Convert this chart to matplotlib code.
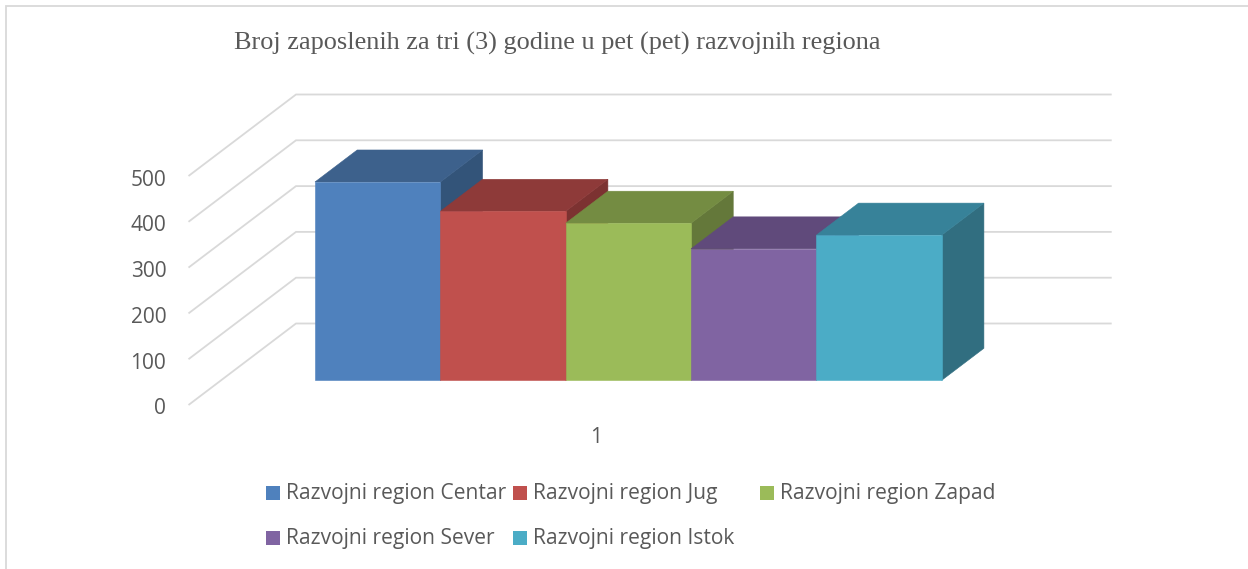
import matplotlib
matplotlib.use("Agg")
import matplotlib.pyplot as plt
from matplotlib.patches import Polygon, Rectangle
from matplotlib.transforms import ScaledTranslation

# ---- data ----
regions = ["Razvojni region Centar", "Razvojni region Jug", "Razvojni region Zapad",
           "Razvojni region Sever", "Razvojni region Istok"]
employees = [433, 369, 343, 287, 317]
value_ticks = [0, 100, 200, 300, 400, 500]
category_label = "1"
title = "Broj zaposlenih za tri (3) godine u pet (pet) razvojnih regiona"

front_colors = ["#4F81BD", "#C0504D", "#9BBB59", "#8064A2", "#4BACC6"]
top_colors = ["#3D618C", "#8E3A39", "#748C42", "#604A7B", "#378299"]
side_colors = ["#335479", "#7C3231", "#64783A", "#533F6C", "#316E80"]

W, H = 1248, 569
GRID = "#D9D9D9"
TEXT = "#595959"
SANS = "Open Sans"

fig = plt.figure(figsize=(W / 100, H / 100), dpi=100, facecolor="white")

# plot box in pixels: floor front-left corner to far top-right
left, right, bottom, top = 188.5, 1111.7, 405.0, 94.0
ax = fig.add_axes([left / W, 1 - bottom / H, (right - left) / W, (bottom - top) / H])
bar_px = 125.34            # pixels per bar
val_px = 0.458             # pixels per employee
ax.set_xlim(0, (right - left) / bar_px)
ax.set_ylim(0, (bottom - top) / val_px)
ax.patch.set_visible(False)
for s in ax.spines.values():
    s.set_visible(False)

# oblique depth projection: depth 0 = front edge of floor, 1 = back wall
depth_dx = 107.5 / bar_px
depth_dy = 81.5 / val_px


def proj(x, v, d):
    return x + d * depth_dx, v + d * depth_dy


# gridlines on side wall and back wall
for v in value_ticks:
    p0 = proj(0, v, 0)
    p1 = proj(0, v, 1)
    xe = ax.get_xlim()[1]
    ax.plot([p0[0], p1[0], xe], [p0[1], p1[1], p1[1]], color=GRID, lw=1.3,
            solid_joinstyle="miter", solid_capstyle="butt", zorder=1, clip_on=False)

# 3D bars
d_front = 24.7 / 81.5
d_back = d_front + 32.0 / 81.5
x_start = (315 - left - d_front * 107.5) / bar_px
for i, v in enumerate(employees):
    x0 = x_start + i
    x1 = x0 + 1
    z = 2 + i
    side = [proj(x1, 0, d_front), proj(x1, 0, d_back), proj(x1, v, d_back), proj(x1, v, d_front)]
    roof = [proj(x0, v, d_front), proj(x0, v, d_back), proj(x1, v, d_back), proj(x1, v, d_front)]
    face = [proj(x0, 0, d_front), proj(x1, 0, d_front), proj(x1, v, d_front), proj(x0, v, d_front)]
    ax.add_patch(Polygon(side, closed=True, fc=side_colors[i], ec=side_colors[i], lw=0.4, zorder=z))
    ax.add_patch(Polygon(roof, closed=True, fc=top_colors[i], ec=top_colors[i], lw=0.4, zorder=z))
    ax.add_patch(Polygon(face, closed=True, fc=front_colors[i], ec=front_colors[i], lw=0.4, zorder=z))

# axes ticks
ax.set_yticks(value_ticks)
ax.set_yticklabels([str(v) for v in value_ticks], fontfamily=SANS, fontsize=15, color=TEXT)
ax.set_xticks([(596 - left) / bar_px])
ax.set_xticklabels([category_label], fontfamily=SANS, fontsize=15, color=TEXT)
ax.tick_params(axis="y", length=0, pad=16)
ax.tick_params(axis="x", length=0, pad=16)
shift = ScaledTranslation(0, -1.5 / 100, fig.dpi_scale_trans)
for lab in ax.get_yticklabels():
    lab.set_transform(lab.get_transform() + shift)

# chart frame (top and left only)
fig.add_artist(plt.Line2D([5.5 / W, 5.5 / W, 1], [0, 1 - 5.5 / H, 1 - 5.5 / H],
                          color=GRID, lw=1.3, solid_joinstyle="miter"))

# title
fig.suptitle(title, x=234 / W, y=1 - 43 / H, ha="left", va="center",
             fontfamily="Liberation Serif", fontsize=18.9, color=TEXT)

# legend, laid out in rows of three
col_x = [266, 513, 760]
row_y = [493, 538]
for i, name in enumerate(regions):
    cx, cy = col_x[i % 3], row_y[i // 3]
    fig.add_artist(Rectangle((cx / W, 1 - (cy + 7) / H), 14 / W, 14 / H,
                             transform=fig.transFigure, fc=front_colors[i], ec="none"))
    fig.text((cx + 20) / W, 1 - (cy + 0.5) / H, name, ha="left", va="center",
             fontfamily=SANS, fontsize=15.1, color=TEXT)

fig.savefig("out.png", dpi=100, facecolor="white")
